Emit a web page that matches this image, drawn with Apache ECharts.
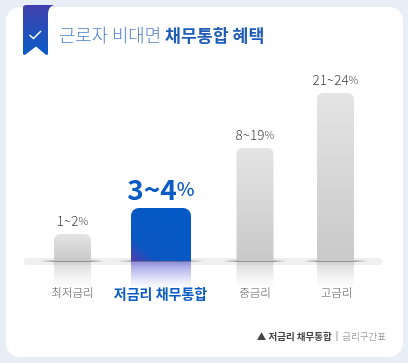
<!DOCTYPE html>
<html><head><meta charset="utf-8">
<style>html,body{margin:0;padding:0;background:#e8eef5}#c{width:408px;height:363px}</style>
<script src="https://cdn.jsdelivr.net/npm/echarts@6/dist/echarts.min.js"></script>
</head><body><div id="c"></div>
<script>
const categories = ['최저금리','저금리 채무통합','중금리','고금리'];
const barValues = [27,53,113,168];
const rangeLabels = ['1~2','3~4','8~19','21~24'];
const highlightIndex = 1;
const titleLight = '근로자 비대면 ';
const titleBold = '채무통합 혜택';
const footerBold = '▲ 저금리 채무통합';
const footerLight = '금리구간표';

const FONT = '"Noto Sans CJK KR","Noto Sans",sans-serif';
const nudge = [0,0.5,6.5,-1];
const widths = [37,60,37,37];
const BLUE = '#0a5bc4';
const G = echarts.graphic;
const chart = echarts.init(document.getElementById('c'),null,{renderer:'canvas'});

function renderItem(params, api){
  const i = api.value(0), hi = i===highlightIndex;
  const top = api.coord([i, api.value(1)]), base = api.coord([i,0]);
  const cx = top[0]+nudge[i], w = widths[i], x = cx-w/2, h = base[1]-top[1];
  const fill = hi
    ? new G.LinearGradient(0.85,0.1,0.05,1.1,[{offset:0,color:'#0459c6'},{offset:0.72,color:'#0a57c2'},{offset:1,color:'#5a3aa8'}])
    : new G.LinearGradient(0,0,0,1,[{offset:0,color:'#e4e4e4'},{offset:1,color:'#c9c9c9'}]);
  const refl = hi
    ? new G.LinearGradient(0,0,0,1,[{offset:0,color:'rgba(80,80,205,0.62)'},{offset:1,color:'rgba(120,130,230,0)'}])
    : new G.LinearGradient(0,0,0,1,[{offset:0,color:'rgba(190,190,190,0.62)'},{offset:1,color:'rgba(220,220,220,0)'}]);
  const shadow = new G.LinearGradient(0,0,1,0,[{offset:0,color:'rgba(70,70,70,0)'},{offset:0.2,color:'rgba(70,70,70,0.6)'},{offset:0.8,color:'rgba(70,70,70,0.6)'},{offset:1,color:'rgba(70,70,70,0)'}]);
  const labelStyle = hi
    ? {text:'{n|'+rangeLabels[i]+'}{p|%}',rich:{n:{fontFamily:FONT,fontSize:28,fontWeight:700,fill:'#0a5bc4',color:'#0a5bc4'},p:{fontFamily:FONT,fontSize:19,fontWeight:500,fill:'#0a5bc4',color:'#0a5bc4'}}}
    : {text:'{n|'+rangeLabels[i]+'}{p|%}',rich:{n:{fontFamily:FONT,fontSize:13.5,fontWeight:300,fill:'#444',color:'#444'},p:{fontFamily:FONT,fontSize:11,fontWeight:300,fill:'#555',color:'#555'}}};
  return {type:'group',children:[
    {type:'rect',shape:{x:x,y:base[1],width:w,height:hi?27:28},style:{fill:refl}},
    {type:'rect',shape:{x:x-13,y:base[1]-0.5,width:w+26,height:1.2},style:{fill:shadow}},
    {type:'rect',shape:{x:x,y:top[1],width:w,height:h,r:[hi?8:6,hi?8:6,0,0]},style:{fill:fill}},
    {type:'text',x:cx,y:top[1]-(hi?5:6),style:Object.assign({align:'center',verticalAlign:'bottom'},labelStyle)}
  ]};
}

chart.setOption({
  animation:false,
  backgroundColor:'#e8eef5',
  grid:{left:28.5,width:352,top:81,height:180},
  xAxis:{type:'category',data:categories,axisLine:{show:false},axisTick:{show:false},
    axisLabel:{interval:0,margin:26,formatter:(v,i)=> i===highlightIndex?'{h|'+v+'}':(i===2?'{s|'+v+'}':'{g|'+v+'}'),
      rich:{h:{fontFamily:FONT,fontSize:14,fontWeight:700,color:BLUE},
            g:{fontFamily:FONT,fontSize:11.5,fontWeight:300,color:'#555'},
            s:{fontFamily:FONT,fontSize:11.5,fontWeight:300,color:'#555',padding:[0,0,0,13]}}}},
  yAxis:{type:'value',min:0,max:180,show:false},
  series:[{type:'custom',renderItem,data:barValues.map((v,i)=>[i,v]),encode:{x:0,y:1},clip:false,z:5}],
  graphic:{elements:[
    {type:'rect',z:-10,shape:{x:6,y:7,width:397,height:350,r:14},style:{fill:'#fff'}},
    {type:'rect',z:-9,shape:{x:24,y:258,width:358,height:7,r:3},style:{fill:'#efefef'}},
    {type:'polygon',z:10,shape:{points:[[23,7],[24,5.5],[26,5],[54,5],[51,6.5],[49,9],[48,13],[48,54],[47,55],[45.5,54.5],[36,46.5],[25.5,54.5],[24,55],[23,54]]},
      style:{fill:new G.LinearGradient(0,0,0,1,[{offset:0,color:'#4040ac'},{offset:1,color:'#0a5cc8'}])}},
    {type:'polyline',z:11,shape:{points:[[29.5,35],[33.5,38.5],[41,31]]},style:{stroke:'#fff',lineWidth:1.5,fill:null}},
    {type:'text',z:11,x:59,y:35,style:{text:'{a|'+titleLight+'}{b|'+titleBold+'}',verticalAlign:'middle',
      rich:{a:{fontFamily:FONT,fontSize:17.8,fontWeight:300,fill:'#4f80cc',color:'#4f80cc'},b:{fontFamily:FONT,fontSize:17.3,fontWeight:700,fill:'#1f5cb8',color:'#1f5cb8'}}}},
    {type:'text',z:11,x:386,y:336,style:{text:'{a|'+footerBold+'}{c|  |  }{b|'+footerLight+'}',align:'right',verticalAlign:'middle',
      rich:{a:{fontFamily:FONT,fontSize:9.5,fontWeight:700,fill:'#444',color:'#444'},c:{fontFamily:FONT,fontSize:9,fill:'#666',color:'#666'},b:{fontFamily:FONT,fontSize:9.5,fontWeight:300,fill:'#777',color:'#777'}}}}
  ]}
});
</script></body></html>
